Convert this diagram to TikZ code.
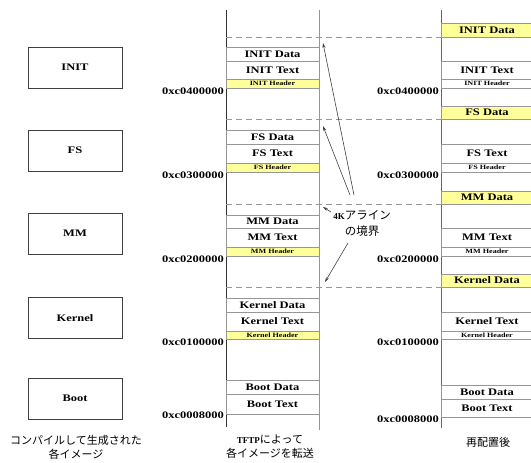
\documentclass[tikz,border=0pt]{standalone}
\usepackage{fontspec}
\usetikzlibrary{arrows.meta}
\setmainfont{Liberation Serif}
\newfontfamily\cellfont[FakeStretch=1.25]{Liberation Serif}
\newfontfamily\jpfont{Noto Sans CJK JP}
\definecolor{hdryellow}{RGB}{255,255,153}
\definecolor{linegray}{RGB}{150,150,150}
\begin{document}
\begin{tikzpicture}[x=1pt,y=-1pt,
  img/.style={draw=black!75,line width=0.8pt,minimum width=94pt,minimum height=41pt,font=\cellfont\bfseries\fontsize{10}{12}\selectfont},
  cell/.style={draw=linegray,line width=0.8pt,minimum width=93pt,inner sep=0pt,font=\cellfont\bfseries\fontsize{10}{12}\selectfont},
  rcell/.style={cell,minimum width=92pt},
  hdr/.style={font=\cellfont\bfseries\fontsize{6.5}{7}\selectfont},
  addr/.style={anchor=east,inner sep=1pt,font=\cellfont\bfseries\fontsize{10}{12}\selectfont},
  jpcap/.style={align=center,font=\jpfont\fontsize{11}{14}\selectfont},
  bound/.style={draw=linegray,line width=0.8pt,dash pattern=on 6pt off 4pt},
  tip/.style={draw=black!75,line width=0.6pt,-{Stealth[length=5pt,width=3pt]}}]
\useasboundingbox (0,0) rectangle (531,463);
% images built one by one
\node[img] (init) at (75,67.5) {INIT};
\node[img] (fs) at (75,150.5) {FS};
\node[img] (mm) at (75,233.5) {MM};
\node[img] (kern) at (75,318) {Kernel};
\node[img] (boot) at (75,398.5) {Boot};
% memory as sent by TFTP
\draw[line width=0.8pt,black!80] (226,10) -- (226,427);
\draw[line width=0.8pt,linegray] (319,10) -- (319,430);
\node[cell,minimum height=14pt] (initD) at (272.5,54) {INIT Data};
\node[cell,minimum height=18pt] (initT) at (272.5,70) {INIT Text};
\node[cell,hdr,fill=hdryellow,minimum height=9pt] (initH) at (272.5,83.5) {INIT Header};
\node[cell,minimum height=14pt] (fsD) at (272.5,137) {FS Data};
\node[cell,minimum height=19pt] (fsT) at (272.5,153.5) {FS Text};
\node[cell,hdr,fill=hdryellow,minimum height=9pt] (fsH) at (272.5,167.5) {FS Header};
\node[cell,minimum height=13pt] (mmD) at (272.5,221.5) {MM Data};
\node[cell,minimum height=19pt] (mmT) at (272.5,237.5) {MM Text};
\node[cell,hdr,fill=hdryellow,minimum height=9pt] (mmH) at (272.5,251.5) {MM Header};
\node[cell,minimum height=14pt] (kernD) at (272.5,305) {Kernel Data};
\node[cell,minimum height=19pt] (kernT) at (272.5,321.5) {Kernel Text};
\node[cell,hdr,fill=hdryellow,minimum height=8pt] (kernH) at (272.5,335) {Kernel Header};
\node[cell,minimum height=14pt] (bootD) at (272.5,387) {Boot Data};
\node[cell,minimum height=20pt] (bootT) at (272.5,404) {Boot Text};
\node[addr] (a4) at (225,91) {0xc0400000};
\node[addr] (a3) at (225,175) {0xc0300000};
\node[addr] (a2) at (225,259) {0xc0200000};
\node[addr] (a1) at (225,342) {0xc0100000};
\node[addr] (a0) at (225,415) {0xc0008000};
% memory after relocation
\draw[line width=0.8pt,black!60] (441,10) -- (441,428);
\node[rcell,fill=hdryellow,minimum height=14pt] (rinitD) at (487,30) {INIT Data};
\node[rcell,minimum height=18pt] (rinitT) at (487,70) {INIT Text};
\node[rcell,hdr,minimum height=9pt] (rinitH) at (487,83.5) {INIT Header};
\node[rcell,fill=hdryellow,minimum height=13pt] (rfsD) at (487,112.5) {FS Data};
\node[rcell,minimum height=19pt] (rfsT) at (487,153.5) {FS Text};
\node[rcell,hdr,minimum height=9pt] (rfsH) at (487,167.5) {FS Header};
\node[rcell,fill=hdryellow,minimum height=13pt] (rmmD) at (487,197.5) {MM Data};
\node[rcell,minimum height=19pt] (rmmT) at (487,237.5) {MM Text};
\node[rcell,hdr,minimum height=9pt] (rmmH) at (487,251.5) {MM Header};
\node[rcell,fill=hdryellow,minimum height=13pt] (rkernD) at (487,280.5) {Kernel Data};
\node[rcell,minimum height=19pt] (rkernT) at (487,321.5) {Kernel Text};
\node[rcell,hdr,minimum height=8pt] (rkernH) at (487,335) {Kernel Header};
\node[rcell,minimum height=14pt] (rbootD) at (487,392) {Boot Data};
\node[rcell,minimum height=18pt] (rbootT) at (487,408) {Boot Text};
\node[addr] (r4) at (440,91) {0xc0400000};
\node[addr] (r3) at (440,175) {0xc0300000};
\node[addr] (r2) at (440,259) {0xc0200000};
\node[addr] (r1) at (440,342) {0xc0100000};
\node[addr] (r0) at (440,419) {0xc0008000};
% 4K boundaries
\draw[bound] (226,37) -- (441,37) (226,119) -- (441,119) (226,204) -- (441,204) (226,287) -- (441,287);
\node[jpcap,font=\jpfont\fontsize{11.5}{16}\selectfont] (note) at (362,223) {{\rmfamily\bfseries\fontsize{9}{10}\selectfont 4K}アライン\\の境界};
\coordinate (t1) at (354,195);
\coordinate (t2) at (350,195);
\coordinate (t3) at (331,212);
\coordinate (t4) at (348,243);
\coordinate (h1) at (323,43);
\coordinate (h2) at (323,126);
\coordinate (h3) at (323,207);
\coordinate (h4) at (325,282);
\draw[tip] (t1)--(h1);
\draw[tip] (t2)--(h2);
\draw[tip] (t3)--(h3);
\draw[tip] (t4)--(h4);
% captions
\node[jpcap] (capL) at (76,447) {コンパイルして生成された\\各イメージ};
\node[jpcap] (capM) at (270,447) {{\rmfamily\bfseries\fontsize{9}{10}\selectfont TFTP}によって\\各イメージを転送};
\node[jpcap] (capR) at (488,442) {再配置後};
\end{tikzpicture}
\end{document}
